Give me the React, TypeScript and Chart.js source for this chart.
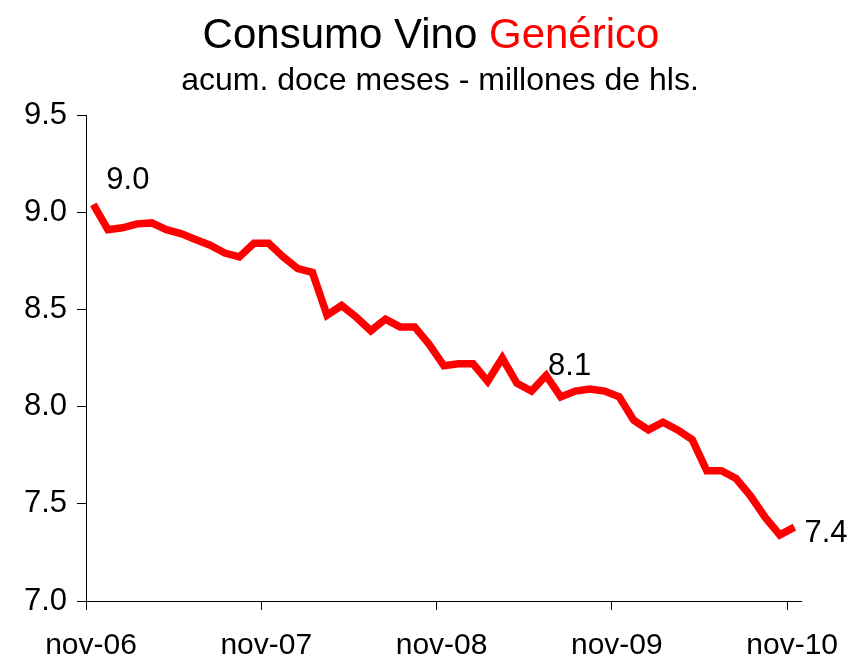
import { useEffect, useRef } from "react";
import { Chart, registerables } from "chart.js";

Chart.register(...registerables);

const months = [
  "nov-06", "dic-06", "ene-07", "feb-07", "mar-07", "abr-07", "may-07", "jun-07", "jul-07", "ago-07", "sep-07", "oct-07",
  "nov-07", "dic-07", "ene-08", "feb-08", "mar-08", "abr-08", "may-08", "jun-08", "jul-08", "ago-08", "sep-08", "oct-08",
  "nov-08", "dic-08", "ene-09", "feb-09", "mar-09", "abr-09", "may-09", "jun-09", "jul-09", "ago-09", "sep-09", "oct-09",
  "nov-09", "dic-09", "ene-10", "feb-10", "mar-10", "abr-10", "may-10", "jun-10", "jul-10", "ago-10", "sep-10", "oct-10",
  "nov-10",
];

const consumo = [
  9.04, 8.91, 8.92, 8.94, 8.945, 8.91, 8.89, 8.86, 8.83, 8.79, 8.77, 8.84,
  8.84, 8.77, 8.71, 8.69, 8.47, 8.52, 8.46, 8.39, 8.45, 8.41, 8.41, 8.32,
  8.21, 8.22, 8.22, 8.13, 8.25, 8.12, 8.08, 8.16, 8.05, 8.08, 8.09, 8.08,
  8.05, 7.93, 7.88, 7.92, 7.88, 7.83, 7.67, 7.67, 7.63, 7.54, 7.43, 7.34,
  7.38,
];

const xTickValues = [-0.5, 11.5, 23.5, 35.5, 47.5];
const xTickLabels = ["nov-06", "nov-07", "nov-08", "nov-09", "nov-10"];
const yTickValues = [7.0, 7.5, 8.0, 8.5, 9.0, 9.5];
const labelIndex = [0, 31, 48];
const labelText = ["9.0", "8.1", "7.4"];

const FONT = '"Liberation Sans", Arial, sans-serif';

export default function App() {
  const ref = useRef<HTMLCanvasElement | null>(null);

  useEffect(() => {
    if (!ref.current) return;

    const labelOffsets = [
      [13, -24],
      [2, -9],
      [10, 6],
    ];

    const titlePlugin = {
      id: "twoColorTitle",
      afterDraw(chart: any) {
        const ctx = chart.ctx;
        ctx.save();
        ctx.textBaseline = "alphabetic";
        ctx.textAlign = "left";
        ctx.font = `42px ${FONT}`;
        const a = "Consumo Vino ";
        const b = "Genérico";
        const wa = ctx.measureText(a).width;
        const wb = ctx.measureText(b).width;
        const x0 = 431 - (wa + wb) / 2;
        ctx.fillStyle = "#000000";
        ctx.fillText(a, x0, 48);
        ctx.fillStyle = "#FF0000";
        ctx.fillText(b, x0 + wa, 48);
        ctx.font = `32px ${FONT}`;
        ctx.fillStyle = "#000000";
        ctx.textAlign = "center";
        ctx.fillText("acum. doce meses - millones de hls.", 440, 90);
        ctx.restore();
      },
    };

    const dataLabelPlugin = {
      id: "pointLabels",
      afterDatasetsDraw(chart: any) {
        const ctx = chart.ctx;
        const meta = chart.getDatasetMeta(0);
        ctx.save();
        ctx.font = `31px ${FONT}`;
        ctx.fillStyle = "#000000";
        ctx.textAlign = "left";
        ctx.textBaseline = "middle";
        labelIndex.forEach((idx, k) => {
          const pt = meta.data[idx];
          if (!pt) return;
          const [dx, dy] = labelOffsets[k];
          ctx.fillText(labelText[k], pt.x + dx, pt.y + dy);
        });
        ctx.restore();
      },
    };

    const chart = new Chart(ref.current, {
      type: "line",
      data: {
        labels: months,
        datasets: [
          {
            label: "Consumo",
            data: consumo.map((v, i) => ({ x: i, y: v })),
            borderColor: "#FF0000",
            borderWidth: 7.5,
            pointRadius: 0,
            tension: 0,
            fill: false,
            borderJoinStyle: "miter",
          },
        ],
      },
      options: {
        animation: false,
        responsive: true,
        maintainAspectRatio: false,
        layout: { padding: { top: 115, left: 0, right: 49, bottom: 0 } },
        plugins: {
          legend: { display: false },
          title: { display: false },
          tooltip: { enabled: false },
        },
        scales: {
          x: {
            type: "linear",
            min: -0.5,
            max: 48.5,
            afterBuildTicks(scale: any) {
              scale.ticks = xTickValues.map((v) => ({ value: v }));
            },
            afterFit(scale: any) {
              scale.height = 61;
            },
            ticks: {
              autoSkip: false,
              maxRotation: 0,
              padding: 18,
              labelOffset: 5,
              color: "#000000",
              font: { family: FONT, size: 30 },
              callback: (value: any) => {
                const k = xTickValues.indexOf(Number(value));
                return k >= 0 ? xTickLabels[k] : "";
              },
            },
            grid: {
              drawOnChartArea: false,
              drawTicks: true,
              tickLength: 9,
              color: "#000000",
              lineWidth: 1,
            },
            border: { display: true, color: "#000000", width: 1 },
          },
          y: {
            type: "linear",
            min: 7.0,
            max: 9.5,
            afterBuildTicks(scale: any) {
              scale.ticks = yTickValues.map((v) => ({ value: v }));
            },
            afterFit(scale: any) {
              scale.width = 86;
            },
            ticks: {
              padding: 10,
              color: "#000000",
              font: { family: FONT, size: 31 },
              callback: (value: any) => Number(value).toFixed(1),
            },
            grid: {
              drawOnChartArea: false,
              drawTicks: true,
              tickLength: 9,
              color: "#000000",
              lineWidth: 1,
            },
            border: { display: true, color: "#000000", width: 1 },
          },
        },
      },
      plugins: [titlePlugin, dataLabelPlugin],
    });

    return () => chart.destroy();
  }, []);

  return (
    <div style={{ position: "absolute", left: 0, top: 0, width: 852, height: 662, background: "#ffffff" }}>
      <canvas ref={ref} />
    </div>
  );
}
